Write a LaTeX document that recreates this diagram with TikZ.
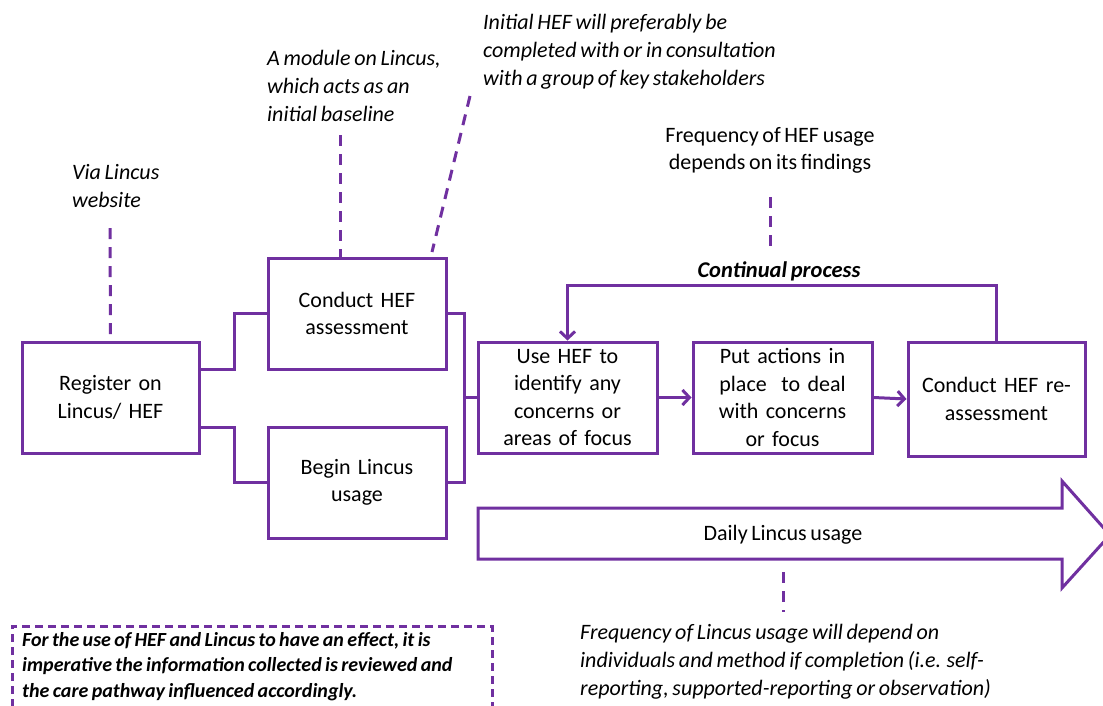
\documentclass[tikz,border=0pt]{standalone}
\usepackage{fontspec}
\setmainfont{Carlito}[WordSpace=0.75]
\usetikzlibrary{arrows.meta}
\definecolor{purp}{HTML}{7030A0}
\tikzset{
  box/.style={draw=purp, line width=3pt, minimum width=177pt, minimum height=111pt, align=center, text width=170pt, inner sep=0pt, font=\fontsize{22}{27.5}\selectfont},
  conn/.style={draw=purp, line width=3pt},
  arr/.style={conn, -{Straight Barb[length=7pt,width=15pt,line width=3pt]}},
  dline/.style={draw=purp, line width=3pt, dash pattern=on 11pt off 8pt},
  note/.style={align=left, inner sep=0pt, anchor=north west, font=\fontsize{22}{28}\selectfont\itshape},
}
\begin{document}
\begin{tikzpicture}[x=1pt,y=-1pt]
\useasboundingbox (0,0) rectangle (1103,705);
\node[box] (reg) at (110.5,397.5) {Register on\\Lincus/ HEF};
\node[box, minimum width=178pt] (cond) at (357,313.5) {Conduct HEF\\assessment};
\node[box, minimum width=178pt] (beg) at (357,482.5) {Begin Lincus\\usage};
\node[box, minimum width=179pt] (use) at (567.5,397.5) {Use HEF to\\identify any\\concerns or\\areas of focus};
\node[box, minimum width=179pt] (put) at (782.5,397.5) {Put actions in\\place\ \ to deal\\with concerns\\or focus};
\node[box, minimum height=114pt] (re) at (996.5,399) {Conduct HEF re-\\assessment};

\draw[conn] ([yshift=28.5pt]reg.east) -- ++(34,0) |- (cond.west);
\draw[conn] ([yshift=-29.5pt]reg.east) -- ++(34,0) |- (beg.west);
\draw[conn] (cond.east) -- ++(17,0) coordinate (j) |- (beg.east);
\draw[conn] (j |- use.west) -- (use.west);
\draw[arr] (use.east) -- (put.west);
\draw[arr] (put.east) -- (re.west);
\draw[arr] (re.north) -- ++(0,-55) -| (use.north);
\node[font=\fontsize{22.5}{27}\selectfont\bfseries\itshape, inner sep=0pt] (cp) at (779,271) {Continual process};

% big arrow
\draw[conn] (478,508) -- (1062,508) -- (1062,481) -- (1110,535) -- (1062,588) -- (1062,559) -- (478,559) -- cycle;
\node[font=\fontsize{22}{27}\selectfont, inner sep=0pt] (daily) at (783,535) {Daily Lincus usage};

% annotations
\node[note] (via) at (72,164) {Via Lincus\\website};
\coordinate (viaend) at (110,228);
\draw[dline] (viaend) -- (reg.north);

\node[note] (mod) at (267,50) {A module on Lincus,\\which acts as an\\initial baseline};
\coordinate (modend) at (340,135);
\draw[dline] (modend) -- (340,258);

\node[note] (init) at (483,14) {Initial HEF will preferably be\\completed with or in consultation\\with a group of key stakeholders};
\coordinate (initend) at (470,96);
\coordinate (initb) at (432,252);
\draw[dline] (initend) -- (initb);

\node[align=center, inner sep=0pt, font=\fontsize{22}{27}\selectfont] (freq) at (770,150) {Frequency of HEF usage\\depends on its findings};
\coordinate (freqend) at (770,197);
\coordinate (freqb) at (770,252);
\draw[dline] (freqend) -- (freqb);

\coordinate (dailyend) at (783,572);
\coordinate (dailyb) at (783,612);
\draw[dline] (dailyend) -- (dailyb);
\node[note] (lin) at (580,624) {Frequency of Lincus usage will depend on\\individuals and method if completion (i.e. self-\\reporting, supported-reporting or observation)};

% bottom left dashed box
\draw[draw=purp, line width=3pt, dash pattern=on 8pt off 5pt] (12,720) -- (12,626) -- (492,626) -- (492,720);
\node[note, font=\fontsize{20}{25.5}\selectfont\bfseries\itshape] (imp) at (22,632) {For the use of HEF and Lincus to have an effect, it is\\imperative the information collected is reviewed and\\the care pathway influenced accordingly.};
\end{tikzpicture}
\end{document}
